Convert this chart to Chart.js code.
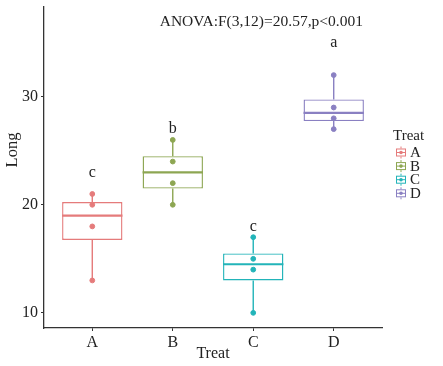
<!DOCTYPE html>
<html>
<head>
<meta charset="utf-8">
<script src="https://cdn.jsdelivr.net/npm/chart.js@4"></script>
<style>
  html, body { margin: 0; padding: 0; background: #fff; }
  #wrap { width: 443px; height: 366px; }
</style>
</head>
<body>
<div id="wrap"><canvas id="chart" width="443" height="366"></canvas></div>
<script>
// data
const categories = ["A", "B", "C", "D"];
const pointsA = [21, 20, 18, 13];
const pointsB = [26, 24, 22, 20];
const pointsC = [17, 15, 14, 10];
const pointsD = [32, 29, 28, 27];
const boxLow = [16.75, 21.5, 13, 27.75];
const boxMid = [19, 23, 14.5, 28.5];
const boxHigh = [20.25, 24.5, 15.5, 29.75];
const whiskerLow = [13, 20, 10, 27];
const whiskerHigh = [21, 26, 17, 32];
const letters = ["c", "b", "c", "a"];
const letterY = [23, 27, 18, 35];
const yTicks = [10, 20, 30];
const xTicks = [1, 2, 3, 4];
const anovaText = "ANOVA:F(3,12)=20.57,p<0.001";

const colors = ["#E57B7B", "#8DA652", "#22B4B9", "#8A80C2"];
const FONT = "'Liberation Serif', 'DejaVu Serif', serif";
const ink = "#222";

const allPoints = [pointsA, pointsB, pointsC, pointsD];

// scatter datasets for the raw points
const pointSets = allPoints.map((pts, i) => ({
  type: "scatter",
  label: categories[i],
  data: pts.map((v) => ({ x: i + 1, y: v })),
  backgroundColor: colors[i],
  borderColor: colors[i],
  pointRadius: 2.4,
  pointHoverRadius: 2.4,
  order: 0,
}));

const boxSet = {
  type: "bar",
  label: "box",
  data: categories.map((c, i) => ({ x: i + 1, y: [boxLow[i], boxHigh[i]] })),
  backgroundColor: "#ffffff",
  borderColor: colors,
  borderWidth: 1.4,
  borderSkipped: false,
  barPercentage: 0.75,
  categoryPercentage: 1,
  order: 2,
};

// medians + whiskers, drawn right after the boxes
const boxLines = {
  id: "boxLines",
  afterDatasetDraw(chart, args) {
    if (args.meta.type !== "bar") return;
    const { ctx, scales } = chart;
    const xs = scales.x, ys = scales.y;
    args.meta.data.forEach((bar, i) => {
      const cx = xs.getPixelForValue(i + 1);
      const half = bar.width / 2;
      ctx.save();
      ctx.strokeStyle = colors[i];
      ctx.lineWidth = 1.4;
      ctx.beginPath();
      ctx.moveTo(cx, ys.getPixelForValue(whiskerHigh[i]));
      ctx.lineTo(cx, ys.getPixelForValue(boxHigh[i]));
      ctx.moveTo(cx, ys.getPixelForValue(boxLow[i]));
      ctx.lineTo(cx, ys.getPixelForValue(whiskerLow[i]));
      ctx.stroke();
      ctx.lineWidth = 2.2;
      ctx.beginPath();
      const my = ys.getPixelForValue(boxMid[i]);
      ctx.moveTo(cx - half, my);
      ctx.lineTo(cx + half, my);
      ctx.stroke();
      ctx.restore();
    });
  },
};

// letters, ANOVA note, y title and the legend
const notes = {
  id: "notes",
  afterDraw(chart) {
    const { ctx, scales } = chart;
    const xs = scales.x, ys = scales.y;
    ctx.save();
    ctx.fillStyle = ink;
    ctx.textAlign = "center";
    ctx.textBaseline = "middle";
    ctx.font = "16px " + FONT;
    letters.forEach((l, i) => {
      ctx.fillText(l, xs.getPixelForValue(i + 1), ys.getPixelForValue(letterY[i]));
    });
    ctx.font = "15.5px " + FONT;
    ctx.fillText(anovaText, xs.getPixelForValue(3.1), ys.getPixelForValue(36.9));

    // y axis title sits a bit above the panel centre in the original
    ctx.save();
    ctx.translate(13, 150);
    ctx.rotate(-Math.PI / 2);
    ctx.font = "16.5px " + FONT;
    ctx.fillText("Long", 0, 0);
    ctx.restore();

    // legend
    ctx.textAlign = "left";
    ctx.font = "15px " + FONT;
    ctx.fillText("Treat", 393, 136);
    categories.forEach((c, i) => {
      const cy = 152.5 + i * 13.6;
      const x0 = 396, w = 10;
      const cx = x0 + w / 2;
      ctx.strokeStyle = colors[i];
      ctx.lineWidth = 1;
      ctx.beginPath();
      ctx.moveTo(cx, cy - 6);
      ctx.lineTo(cx, cy + 6);
      ctx.stroke();
      ctx.fillStyle = "#fff";
      ctx.fillRect(x0, cy - 4, w, 8);
      ctx.strokeRect(x0 + 0.5, cy - 3.5, w - 1, 7);
      ctx.beginPath();
      ctx.moveTo(x0, cy);
      ctx.lineTo(x0 + w, cy);
      ctx.stroke();
      ctx.fillStyle = colors[i];
      ctx.beginPath();
      ctx.arc(cx, cy, 1.8, 0, Math.PI * 2);
      ctx.fill();
      ctx.fillStyle = ink;
      ctx.fillText(c, 410, cy + 0.5);
    });
    ctx.restore();
  },
};

new Chart(document.getElementById("chart"), {
  type: "bar",
  data: { datasets: [...pointSets, boxSet] },
  options: {
    responsive: false,
    animation: false,
    events: [],
    layout: { padding: { top: 7, right: 61, left: 0, bottom: 0 } },
    plugins: { legend: { display: false }, tooltip: { enabled: false } },
    scales: {
      x: {
        type: "linear",
        min: 0.4,
        max: 4.6,
        offset: false,
        afterBuildTicks: (s) => { s.ticks = xTicks.map((v) => ({ value: v })); },
        afterFit: (s) => { s.height = 38; s.paddingLeft = 0; s.paddingRight = 0; },
        ticks: {
          callback: (v) => categories[v - 1],
          color: ink,
          font: { family: FONT, size: 16 },
          padding: 2,
          maxRotation: 0,
        },
        grid: { offset: false, drawOnChartArea: false, drawTicks: true, tickLength: 3, color: "#333" },
        border: { display: true, color: "#333", width: 1.3 },
        title: { display: true, text: "Treat", color: ink, font: { family: FONT, size: 16 }, padding: { top: 0, bottom: 3 } },
      },
      y: {
        min: 8.6,
        max: 38.3,
        afterBuildTicks: (s) => { s.ticks = yTicks.map((v) => ({ value: v })); },
        afterFit: (s) => { s.width = 44; s.paddingTop = 0; s.paddingBottom = 0; },
        ticks: {
          color: ink,
          font: { family: FONT, size: 16 },
          padding: 3,
        },
        grid: { drawOnChartArea: false, drawTicks: true, tickLength: 3, color: "#333" },
        border: { display: true, color: "#333", width: 1.3 },
      },
    },
  },
  plugins: [boxLines, notes],
});
</script>
</body>
</html>
